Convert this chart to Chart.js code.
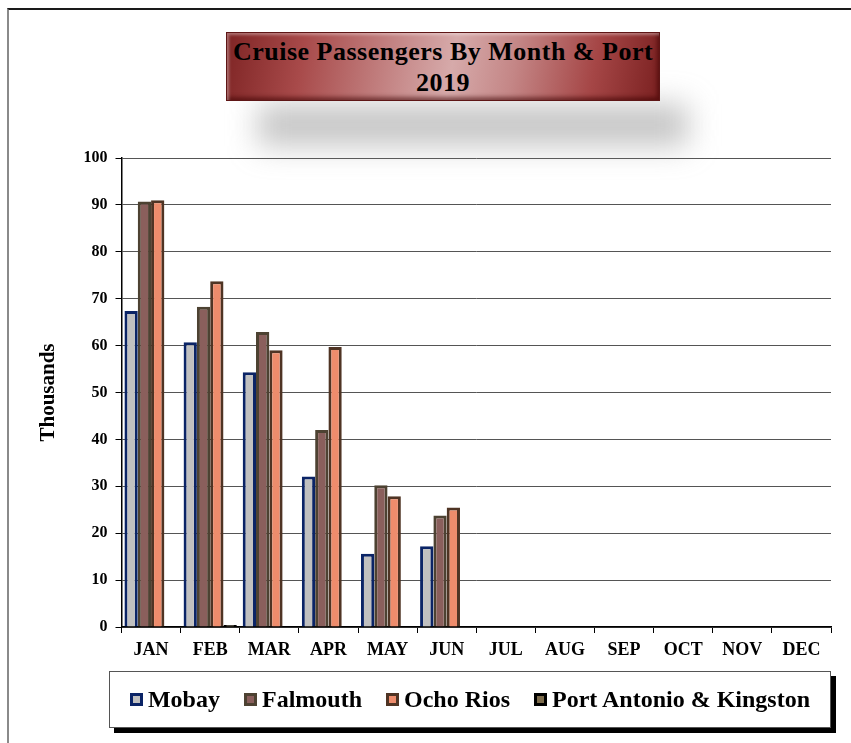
<!DOCTYPE html>
<html>
<head>
<meta charset="utf-8">
<script src="https://cdn.jsdelivr.net/npm/chart.js@4/dist/chart.umd.min.js"></script>
<style>
  html, body { margin: 0; padding: 0; background: #fff; }
  #wrap { position: relative; width: 851px; height: 743px; overflow: hidden; }
  #chart { position: absolute; left: 0; top: 0; }
  #frame { position: absolute; left: 7px; top: 8px; width: 900px; height: 800px;
           border-top: 2px solid #1a1a1a; border-left: 2px solid #8a8a8a; pointer-events: none; }
  #titleShadow { position: absolute; left: 258px; top: 104px; width: 430px; height: 42px;
           background: rgba(140,140,140,0.5); filter: blur(15px); pointer-events: none; }
  #title { position: absolute; left: 226px; top: 32px; width: 434px; height: 69px;
           background: linear-gradient(100deg, #7e2424 0%, #a84a4a 18%, #c98f8f 42%, #d6aaaa 52%, #c48686 66%, #a54646 84%, #7a2020 100%);
           box-shadow: inset 0 0 0 1px #5e1616, inset 3px 3px 3px rgba(255,255,255,0.35), inset -3px -4px 4px rgba(60,0,0,0.55);
           font-family: "Liberation Serif", "Times New Roman", serif; font-weight: bold; font-size: 26px; line-height: 31px;
           letter-spacing: 0.5px; color: #000; text-align: center; box-sizing: border-box; padding-top: 4px; }
  #legend { position: absolute; left: 109px; top: 671px; width: 722px; height: 57px; box-sizing: border-box;
            border: 1px solid #555; background: #fff; box-shadow: 5px 5px 0 #000;
            display: flex; justify-content: center; align-items: center;
            font-family: "Liberation Serif", "Times New Roman", serif; font-weight: bold; font-size: 24px; color: #000; }
  .item { display: flex; align-items: center; margin: 0 12px; white-space: nowrap; }
  .item span.tx { font-family: "Liberation Serif", "Times New Roman", serif; }
  .sw { width: 13px; height: 13px; box-sizing: border-box; border: 3px solid #000; margin-right: 5px; }
</style>
</head>
<body>
<div id="wrap">
  <canvas id="chart" width="851" height="743"></canvas>
  <div id="frame"></div>
  <div id="titleShadow"></div>
  <div id="title">Cruise Passengers By Month &amp; Port<br>2019</div>
  <div id="legend"></div>
</div>
<script>
const months = ['JAN','FEB','MAR','APR','MAY','JUN','JUL','AUG','SEP','OCT','NOV','DEC'];
const mobay       = [67.4, 60.7, 54.3, 32.1, 15.6, 17.2, null, null, null, null, null, null];
const falmouth    = [90.7, 68.3, 62.9, 42.0, 30.2, 23.8, null, null, null, null, null, null];
const ochoRios    = [91.0, 73.7, 59.0, 59.7, 27.9, 25.5, null, null, null, null, null, null];
const portAntonio = [null, 0.4, null, null, null, null, null, null, null, null, null, null];
const seriesNames = ['Mobay', 'Falmouth', 'Ocho Rios', 'Port Antonio & Kingston'];
const yTitle = 'Thousands';

const fills   = ['#c0c0c0', '#8a5f5c', '#ee8c6c', '#7d6c4c'];
const borders = ['#0b2466', '#4d4232', '#4f3424', '#000000'];
const seriesData = [mobay, falmouth, ochoRios, portAntonio];

const chart = new Chart(document.getElementById('chart'), {
  type: 'bar',
  data: {
    labels: months,
    datasets: seriesData.map((d, i) => ({
      label: seriesNames[i],
      data: d,
      backgroundColor: fills[i],
      borderColor: borders[i],
      borderWidth: 3,
      borderSkipped: 'start',
      categoryPercentage: 0.9,
      barPercentage: 1.0
    }))
  },
  options: {
    responsive: false,
    animation: false,
    layout: { padding: { left: 0, right: 20, top: 158, bottom: 86 } },
    plugins: { legend: { display: false }, title: { display: false }, tooltip: { enabled: false } },
    scales: {
      x: {
        grid: { display: true, drawOnChartArea: false, offset: true, tickLength: 6, tickColor: '#000', tickWidth: 1 },
        border: { display: true, color: '#000', width: 1.5 },
        ticks: { color: '#000', padding: 7, font: { family: 'Liberation Serif', weight: 'bold', size: 18 }, maxRotation: 0 },
        afterFit: s => { s.height = 30; }
      },
      y: {
        min: 0, max: 100,
        ticks: { stepSize: 10, color: '#000', padding: 8, font: { family: 'Liberation Serif', weight: 'bold', size: 16 } },
        grid: { color: '#555', lineWidth: 1, tickLength: 6, tickColor: '#000' },
        border: { display: true, color: '#000', width: 1.5 },
        title: { display: true, text: yTitle, color: '#000', padding: { top: 36, bottom: 0 },
                 font: { family: 'Liberation Serif', weight: 'bold', size: 21 } },
        afterFit: s => { s.width = 121.5; }
      }
    }
  }
});

const legend = document.getElementById('legend');
chart.data.datasets.forEach(ds => {
  const it = document.createElement('div');
  it.className = 'item';
  const sw = document.createElement('span');
  sw.className = 'sw';
  sw.style.background = ds.backgroundColor;
  sw.style.borderColor = ds.borderColor;
  const tx = document.createElement('span');
  tx.className = 'tx';
  tx.textContent = ds.label;
  it.appendChild(sw); it.appendChild(tx);
  legend.appendChild(it);
});
</script>
</body>
</html>
